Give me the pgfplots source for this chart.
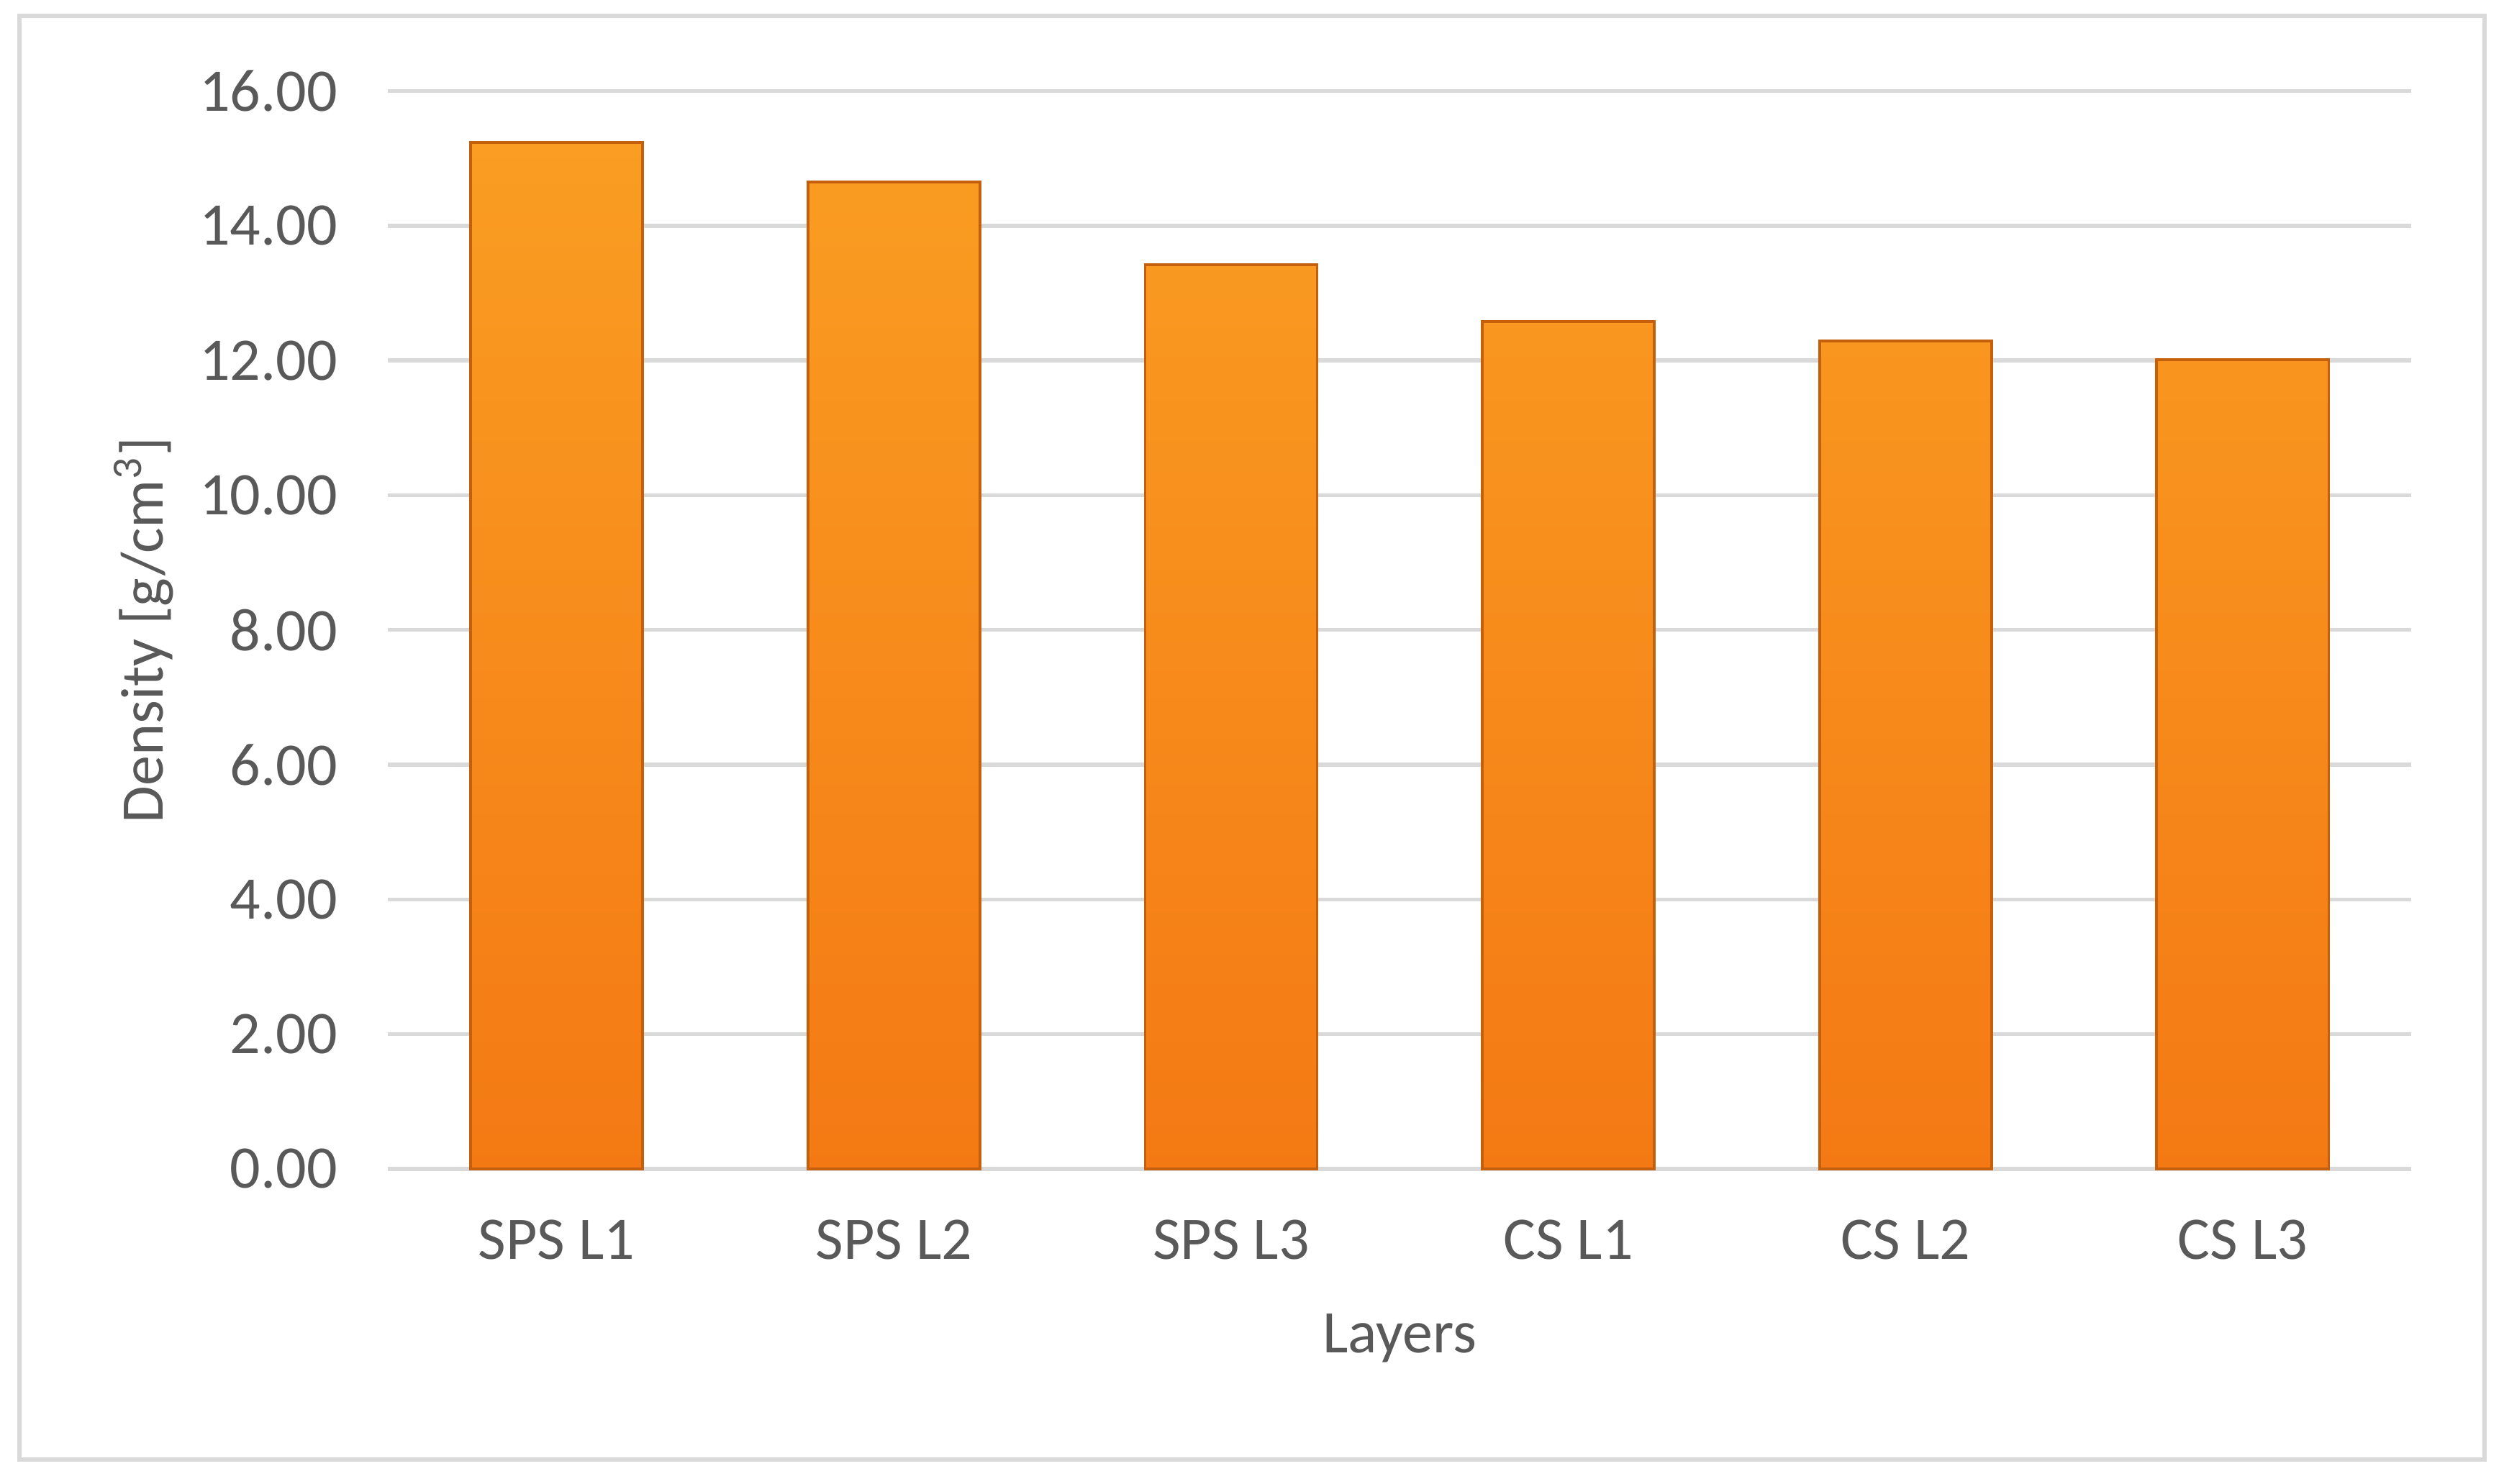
\documentclass[border=0pt]{standalone}
\usepackage{pgfplots}
\pgfplotsset{compat=1.18}
\usepackage{fontspec}
\setmainfont{Carlito}
\definecolor{txt}{HTML}{595959}
\definecolor{gridc}{HTML}{D9D9D9}
\definecolor{bartop}{HTML}{FA9D22}
\definecolor{barbot}{HTML}{F47914}
\definecolor{baredge}{HTML}{C4600C}

\begin{document}
\begin{tikzpicture}
% full image extent (white margin round the frame)
\path[fill=white] (-2.48cm,-2.01cm) rectangle (12.93cm+0.592cm,6.89cm+0.582cm);
\begin{axis}[
    at={(0,0)}, anchor=south west,
    scale only axis,
    width=12.93cm, height=6.89cm,
    ybar, bar width=0.51,
    xmin=-0.5, xmax=5.5,
    ymin=0, ymax=16,
    ytick distance=2,
    xtick=data,
    xticklabels={SPS L1,SPS L2,SPS L3,CS L1,CS L2,CS L3},
    ymajorgrids,
    grid style={gridc, line width=0.7pt},
    axis line style={draw=none},
    major tick length=0pt,
    tick style={draw=none},
    font=\fontsize{11}{13}\selectfont,
    tick label style={txt},
    /pgf/number format/fixed,
    /pgf/number format/fixed zerofill,
    /pgf/number format/precision=2,
    /pgf/number format/assume math mode=true,
    yticklabel style={xshift=-0.2cm},
    xticklabel style={yshift=-0.2cm},
    xlabel={Layers},
    ylabel={Density [g/cm\textsuperscript{3}]},
    every axis x label/.style={at={(axis description cs:0.5,-0.1568)}, anchor=center, txt},
    every axis y label/.style={at={(axis description cs:-0.1207,0.5)}, rotate=90, anchor=center, txt},
    clip=false,
]
\addplot[top color=bartop, bottom color=barbot, draw=baredge, line width=0.5pt]
  coordinates {(0,15.24) (1,14.65) (2,13.42) (3,12.58) (4,12.29) (5,12.01)};
\end{axis}
% outer chart frame
\draw[gridc, line width=0.8pt] (-2.357cm,-1.857cm) rectangle (12.93cm+0.469cm,6.89cm+0.48cm);
\end{tikzpicture}
\end{document}
